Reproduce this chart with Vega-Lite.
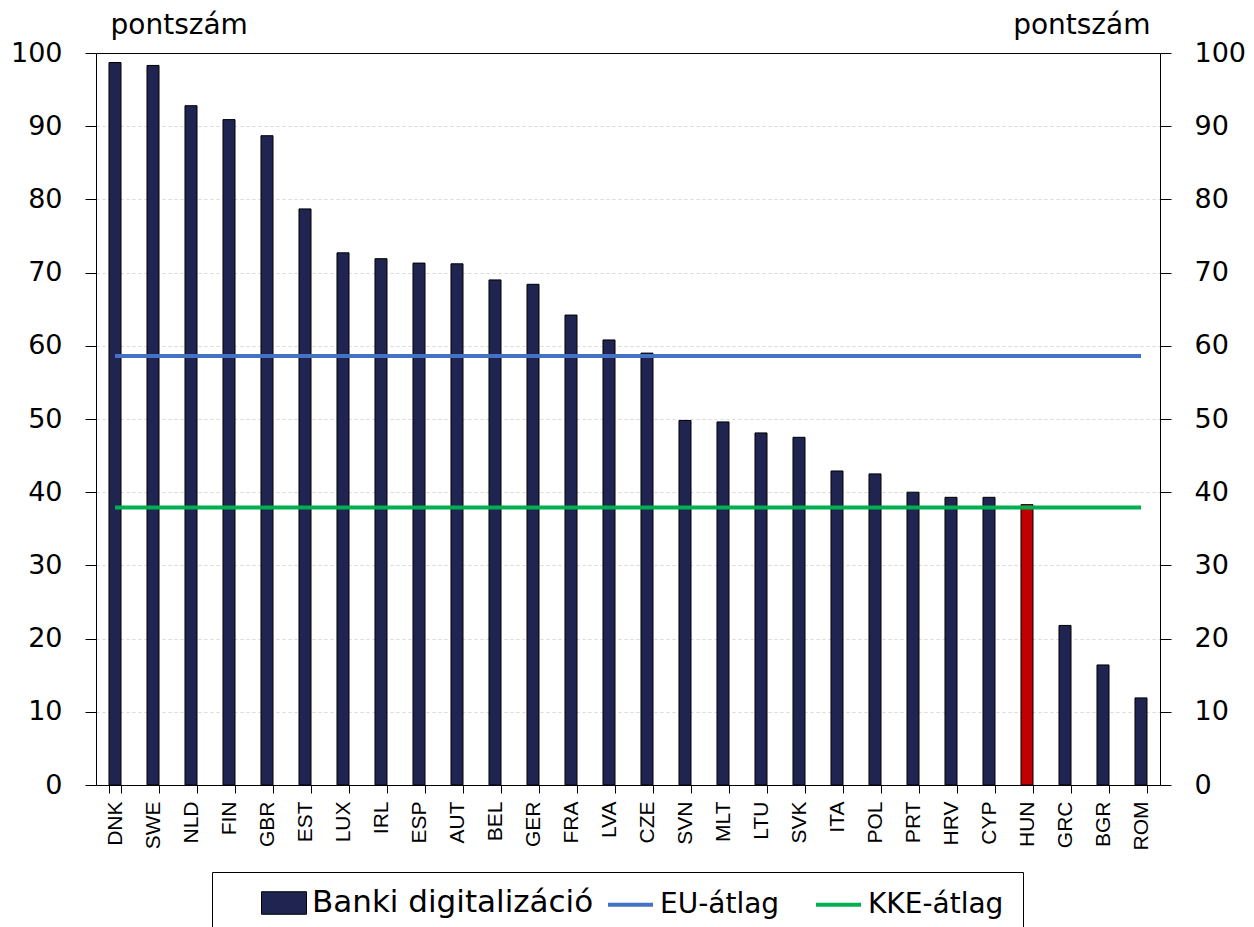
{
  "$schema": "https://vega.github.io/schema/vega-lite/v6.json",
  "width": 1064,
  "height": 732,
  "autosize": {"type": "none"},
  "padding": {"left": 96, "top": 53, "right": 94, "bottom": 142},
  "background": "white",
  "config": {
    "view": {"stroke": null},
    "font": "DejaVu Sans"
  },
  "datasets": {
    "bars": [
      {"country": "DNK", "value": 98.7},
      {"country": "SWE", "value": 98.3},
      {"country": "NLD", "value": 92.8},
      {"country": "FIN", "value": 90.9},
      {"country": "GBR", "value": 88.7},
      {"country": "EST", "value": 78.7},
      {"country": "LUX", "value": 72.7},
      {"country": "IRL", "value": 71.9},
      {"country": "ESP", "value": 71.3},
      {"country": "AUT", "value": 71.2},
      {"country": "BEL", "value": 69.0},
      {"country": "GER", "value": 68.4},
      {"country": "FRA", "value": 64.2},
      {"country": "LVA", "value": 60.8},
      {"country": "CZE", "value": 59.0},
      {"country": "SVN", "value": 49.8},
      {"country": "MLT", "value": 49.6},
      {"country": "LTU", "value": 48.1},
      {"country": "SVK", "value": 47.5},
      {"country": "ITA", "value": 42.9},
      {"country": "POL", "value": 42.5},
      {"country": "PRT", "value": 40.0},
      {"country": "HRV", "value": 39.3},
      {"country": "CYP", "value": 39.3},
      {"country": "HUN", "value": 38.3},
      {"country": "GRC", "value": 21.8},
      {"country": "BGR", "value": 16.4},
      {"country": "ROM", "value": 11.9}
    ],
    "avgs": [
      {"country": "DNK", "series": "EU-átlag", "value": 58.6},
      {"country": "ROM", "series": "EU-átlag", "value": 58.6},
      {"country": "DNK", "series": "KKE-átlag", "value": 37.9},
      {"country": "ROM", "series": "KKE-átlag", "value": 37.9}
    ]
  },
  "layer": [
    {
      "data": {"name": "bars"},
      "transform": [{"calculate": "'Banki digitalizáció'", "as": "series"}],
      "mark": {"type": "bar", "stroke": "#000000", "strokeWidth": 1},
      "encoding": {
        "x": {
          "field": "country",
          "type": "nominal",
          "sort": null,
          "scale": {"paddingInner": 0.684, "paddingOuter": 0.342},
          "axis": {
            "title": null,
            "labelAngle": -90,
            "labelFont": "Liberation Sans",
            "labelFontSize": 21,
            "labelColor": "#000000",
            "labelPadding": 8,
            "labelAlign": "right",
            "labelBaseline": "middle",
            "domainColor": "#000000",
            "domainWidth": 1,
            "tickColor": "#000000",
            "tickSize": 8,
            "tickBand": "extent",
            "grid": false
          }
        },
        "y": {
          "field": "value",
          "type": "quantitative",
          "scale": {"domain": [0, 100], "nice": false},
          "axis": {
            "orient": "left",
            "title": "pontszám",
            "titleAngle": 0,
            "titleAlign": "left",
            "titleBaseline": "alphabetic",
            "titleX": 14,
            "titleY": -20,
            "titleFont": "DejaVu Sans",
            "titleFontSize": 28,
            "titleFontWeight": "normal",
            "titleColor": "#000000",
            "values": [0, 10, 20, 30, 40, 50, 60, 70, 80, 90, 100],
            "labelFont": "DejaVu Sans",
            "labelFontSize": 27,
            "labelColor": "#000000",
            "labelPadding": 23,
            "tickSize": 11,
            "tickColor": "#000000",
            "domainColor": "#000000",
            "grid": true,
            "gridColor": {"condition": {"test": "datum.value === 100", "value": "#000000"}, "value": "#D9D9D9"},
            "gridDash": {"condition": {"test": "datum.value === 100", "value": []}, "value": [3, 3]},
            "gridWidth": 1
          }
        },
        "fill": {
          "condition": {"test": "datum.country === 'HUN'", "value": "#C00000"},
          "field": "series",
          "type": "nominal",
          "scale": {"domain": ["Banki digitalizáció"], "range": ["#1F2451"]},
          "legend": {
            "title": " ",
            "titleOrient": "right",
            "titleFontSize": 44,
            "titlePadding": 422,
            "orient": "none",
            "legendX": 116,
            "legendY": 819,
            "direction": "horizontal",
            "strokeColor": "#000000",
            "padding": 8,
            "symbolOffset": 41,
            "labelOffset": 5,
            "labelFont": "DejaVu Sans",
            "labelFontSize": 31,
            "labelColor": "#000000",
            "labelLimit": 1200,
            "symbolType": "M-1,-0.5H1V0.5H-1Z",
            "symbolSize": 2025,
            "symbolStrokeColor": "#000000",
            "symbolStrokeWidth": 1,
            "symbolOpacity": 1
          }
        }
      }
    },
    {
      "data": {"name": "avgs"},
      "mark": {"type": "line", "strokeWidth": 4},
      "encoding": {
        "x": {"field": "country", "type": "nominal", "sort": null},
        "y": {
          "field": "value",
          "type": "quantitative",
          "axis": {
            "orient": "right",
            "title": "pontszám",
            "titleAngle": 0,
            "titleAlign": "right",
            "titleBaseline": "alphabetic",
            "titleX": -10,
            "titleY": -20,
            "titleFont": "DejaVu Sans",
            "titleFontSize": 28,
            "titleFontWeight": "normal",
            "titleColor": "#000000",
            "values": [0, 10, 20, 30, 40, 50, 60, 70, 80, 90, 100],
            "labelFont": "DejaVu Sans",
            "labelFontSize": 27,
            "labelColor": "#000000",
            "labelPadding": 23,
            "tickSize": 11,
            "tickColor": "#000000",
            "domainColor": "#000000",
            "grid": false
          }
        },
        "stroke": {
          "field": "series",
          "type": "nominal",
          "scale": {"domain": ["EU-átlag", "KKE-átlag"], "range": ["#4472C4", "#00B050"]},
          "legend": {
            "title": null,
            "orient": "none",
            "legendX": 502,
            "legendY": 819,
            "direction": "horizontal",
            "columns": 2,
            "padding": 8,
            "columnPadding": 28,
            "labelOffset": 5,
            "labelFont": "DejaVu Sans",
            "labelFontSize": 28,
            "labelColor": "#000000",
            "labelLimit": 500,
            "symbolType": "stroke",
            "symbolSize": 2025,
            "symbolStrokeWidth": 4,
            "symbolOpacity": 1
          }
        }
      }
    }
  ],
  "resolve": {"axis": {"y": "independent"}}
}
